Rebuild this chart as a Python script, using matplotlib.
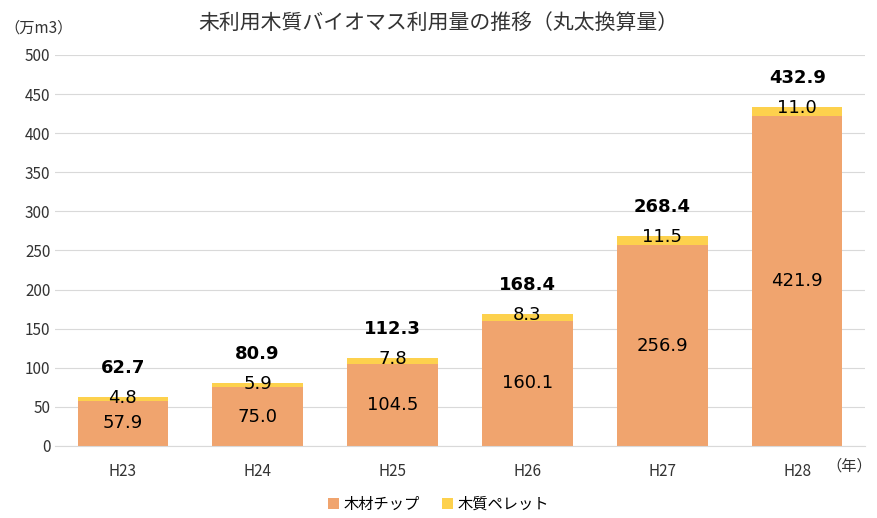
import matplotlib
matplotlib.use("Agg")
import matplotlib.pyplot as plt
import numpy as np

plt.rcParams["font.family"] = ["Noto Sans CJK JP"]

categories = ["H23", "H24", "H25", "H26", "H27", "H28"]
chip = [57.9, 75.0, 104.5, 160.1, 256.9, 421.9]
pellet = [4.8, 5.9, 7.8, 8.3, 11.5, 11.0]
totals = [62.7, 80.9, 112.3, 168.4, 268.4, 432.9]

fig = plt.figure(figsize=(8.77, 5.18), dpi=100)
ax = fig.add_axes([0.063, 0.139, 0.923, 0.755])
x = np.arange(len(categories))
w = 0.67
c1, c2 = "#F0A46E", "#FDD14D"
ax.bar(x, chip, w, color=c1, label="木材チップ", zorder=2)
ax.bar(x, pellet, w, bottom=chip, color=c2, label="木質ペレット", zorder=2)
for i in range(len(x)):
    ax.text(x[i], chip[i] / 2, f"{chip[i]:.1f}", ha="center", va="center", fontsize=13, family="DejaVu Sans")
    ax.text(x[i], totals[i] - 1, f"{pellet[i]:.1f}", ha="center", va="center", fontsize=13, family="DejaVu Sans")
    ax.text(x[i], totals[i] + 37, f"{totals[i]:.1f}", ha="center", va="center", fontsize=13, fontweight="bold", family="DejaVu Sans")

ax.set_xlim(-0.5, len(x) - 0.5)
ax.set_ylim(0, 500)
ax.set_yticks(range(0, 501, 50))
ax.set_xticks(x)
ax.set_xticklabels(categories)
ax.tick_params(length=0, labelsize=11, colors="#333333")
ax.tick_params(axis="x", pad=12)
ax.grid(axis="y", color="#D9D9D9", lw=0.8, zorder=0)
for s in ["top", "right", "left"]:
    ax.spines[s].set_visible(False)
ax.spines["bottom"].set_color("#D9D9D9")

fig.text(0.5, 0.955, "未利用木質バイオマス利用量の推移（丸太換算量）", ha="center", va="center", fontsize=15, color="#333333")
fig.text(0.005, 0.945, "（万m3）", ha="left", va="center", fontsize=11, color="#333333")
fig.text(0.995, 0.1, "（年）", ha="right", va="center", fontsize=11, color="#333333")
fig.legend(loc="center", bbox_to_anchor=(0.5, 0.027), ncol=2, frameon=False, fontsize=11,
           handlelength=0.7, handleheight=0.7, columnspacing=1.5, handletextpad=0.3)
fig.savefig("out.png", dpi=100)
